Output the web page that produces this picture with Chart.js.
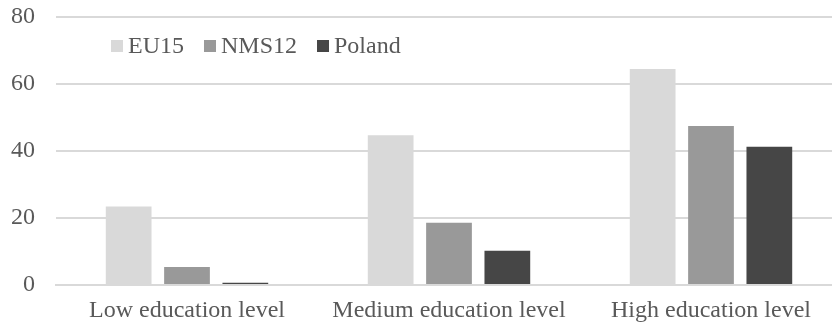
<!DOCTYPE html>
<html>
<head>
<meta charset="utf-8">
<script src="https://cdn.jsdelivr.net/npm/chart.js@4.4.0/dist/chart.umd.min.js"></script>
<style>
html,body{margin:0;padding:0;background:#fff;overflow:hidden;width:832px;height:324px;}
#wrap{width:842px;height:324px;position:relative;}
</style>
</head>
<body>
<div id="wrap"><canvas id="c"></canvas></div>
<script>
const categories = ["Low education level", "Medium education level", "High education level"];
const eu15 = [23.4, 44.7, 64.5];
const nms12 = [5.4, 18.6, 47.5];
const poland = [0.7, 10.2, 41.3];
const seriesNames = ["EU15", "NMS12", "Poland"];
const yTicks = [0, 20, 40, 60, 80];

const colors = ["#d9d9d9", "#999999", "#464646"];
const FONT = "'Liberation Serif', 'Times New Roman', serif";
const TEXT = "#595959";

const legendPlugin = {
  id: 'customLegend',
  afterDraw(chart) {
    const ctx = chart.ctx;
    ctx.save();
    ctx.font = "24px " + FONT;
    ctx.textBaseline = 'middle';
    let x = 111;
    const y = 46;
    chart.data.datasets.forEach((ds, i) => {
      ctx.fillStyle = ds.backgroundColor;
      ctx.fillRect(x, y - 6, 12, 12);
      ctx.fillStyle = TEXT;
      ctx.fillText(ds.label, x + 17, y + 1);
      x += 17 + ctx.measureText(ds.label).width + 20;
    });
    ctx.restore();
  }
};

new Chart(document.getElementById('c'), {
  type: 'bar',
  data: {
    labels: categories,
    datasets: [
      { label: seriesNames[0], data: eu15, backgroundColor: colors[0] },
      { label: seriesNames[1], data: nms12, backgroundColor: colors[1] },
      { label: seriesNames[2], data: poland, backgroundColor: colors[2] }
    ]
  },
  options: {
    responsive: true,
    maintainAspectRatio: false,
    animation: false,
    layout: { padding: { top: 17, right: 0, left: 0, bottom: -13 } },
    datasets: { bar: { categoryPercentage: 0.668, barPercentage: 0.784 } },
    plugins: { legend: { display: false }, tooltip: { enabled: false } },
    scales: {
      x: {
        grid: { display: false, drawTicks: false },
        border: { display: true, color: '#d9d9d9', width: 2 },
        ticks: { color: TEXT, font: { family: FONT, size: 24, lineHeight: 1.0 }, padding: 14, autoSkip: false, maxRotation: 0 }
      },
      y: {
        min: 0, max: 80,
        afterBuildTicks(axis) { axis.ticks = yTicks.map(v => ({ value: v })); },
        afterFit(axis) { axis.width = 56; axis.paddingTop = 0; axis.paddingBottom = 0; },
        grid: { color: '#d9d9d9', lineWidth: 2, drawTicks: false },
        border: { display: false },
        ticks: { color: TEXT, font: { family: FONT, size: 24 }, padding: 21 }
      }
    }
  },
  plugins: [legendPlugin]
});
</script>
</body>
</html>
